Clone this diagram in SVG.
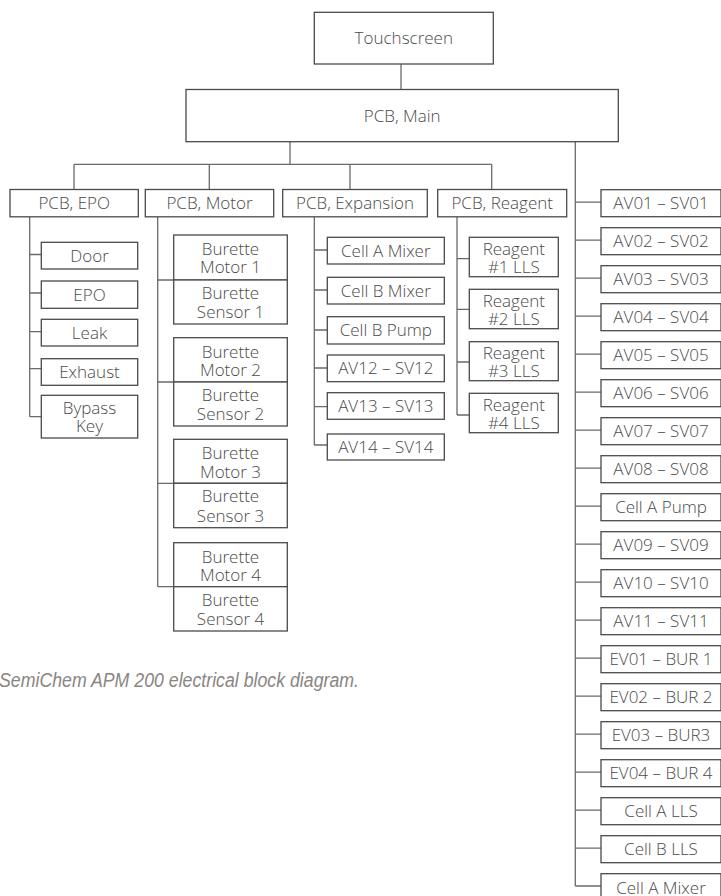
<svg xmlns="http://www.w3.org/2000/svg" width="721" height="896" viewBox="0 0 721 896">
<style>
  .box { fill: #ffffff; stroke: #4a4a4a; stroke-width: 1.3; }
  .lbl { font-family: "Open Sans", "Liberation Sans", sans-serif; font-weight: 300; font-size: 17px; fill: #4a4a4a; text-anchor: middle; }
  .con { fill: none; stroke: #6a6a6a; stroke-width: 1.3; }
  .cap { font-family: "Liberation Sans Narrow", "Liberation Sans", sans-serif; font-style: italic; font-size: 20px; fill: #8a8582; }
</style>
<rect x="0" y="0" width="721" height="896" fill="#ffffff"/>

<g id="connectors">
  <path class="con" d="M401 64 V89.5"/>
  <path class="con" d="M290 141.7 V164.3 M74 164.3 H491.7 M74 164.3 V189.5 M209.3 164.3 V189.5 M350 164.3 V189.5 M491.7 164.3 V189.5"/>
  <path class="con" d="M575.3 141.7 V886"/>
  <path class="con" d="M29.7 216.8 V416.7 M29.7 254.5 H41.3 M29.7 293 H41.3 M29.7 331.7 H41.3 M29.7 368.7 H41.3 M29.7 416.7 H41.3"/>
  <path class="con" d="M157.7 216.8 V586.7 M157.7 280 H173.7 M157.7 382 H173.7 M157.7 483.3 H173.7 M157.7 586.7 H173.7"/>
  <path class="con" d="M314.3 216.8 V445 M314.3 250 H327.3 M314.3 290 H327.3 M314.3 330 H327.3 M314.3 368 H327.3 M314.3 406.7 H327.3 M314.3 445 H327.3"/>
  <path class="con" d="M457 216.8 V415 M457 258.7 H469.3 M457 309.3 H469.3 M457 362 H469.3 M457 415 H469.3"/>
  <path class="con" d="M575.3 202.2 H601 M575.3 240.2 H601 M575.3 278.2 H601 M575.3 316.2 H601 M575.3 354.2 H601 M575.3 392.2 H601 M575.3 430.2 H601 M575.3 468.2 H601 M575.3 506.2 H601 M575.3 544.2 H601 M575.3 582.2 H601 M575.3 620.2 H601 M575.3 658.2 H601 M575.3 696.2 H601 M575.3 734.2 H601 M575.3 772.2 H601 M575.3 810.2 H601 M575.3 848.2 H601 M575.3 886 H601"/>
</g>

<g id="touchscreen"><rect class="box" x="314.3" y="12.3" width="179" height="51.7"/><text class="lbl" x="403.8" y="44">Touchscreen</text></g>
<g id="pcb-main"><rect class="box" x="186" y="89.5" width="432.3" height="52.2"/><text class="lbl" x="402.2" y="121.5">PCB, Main</text></g>

<g id="pcb-epo"><rect class="box" x="10" y="189.5" width="128.3" height="27.3"/><text class="lbl" x="74.2" y="209">PCB, EPO</text></g>
<g id="pcb-motor"><rect class="box" x="145.3" y="189.5" width="128.4" height="27.3"/><text class="lbl" x="209.5" y="209">PCB, Motor</text></g>
<g id="pcb-expansion"><rect class="box" x="282.7" y="189.5" width="144.6" height="27.3"/><text class="lbl" x="355" y="209">PCB, Expansion</text></g>
<g id="pcb-reagent"><rect class="box" x="437.7" y="189.5" width="129" height="27.3"/><text class="lbl" x="502.2" y="209">PCB, Reagent</text></g>

<g id="door"><rect class="box" x="41.3" y="242.3" width="96.4" height="26.7"/><text class="lbl" x="89.5" y="261.5">Door</text></g>
<g id="epo"><rect class="box" x="41.3" y="281" width="96.4" height="27.3"/><text class="lbl" x="89.5" y="300.5">EPO</text></g>
<g id="leak"><rect class="box" x="41.3" y="319.3" width="96.4" height="26.7"/><text class="lbl" x="89.5" y="338.5">Leak</text></g>
<g id="exhaust"><rect class="box" x="41.3" y="358.7" width="96.4" height="26.6"/><text class="lbl" x="89.5" y="377.8">Exhaust</text></g>
<g id="bypass-key"><rect class="box" x="41.3" y="395.3" width="96.4" height="42.7"/><text class="lbl" x="89.5" y="413.5">Bypass<tspan x="89.5" y="432">Key</tspan></text></g>

<g id="burette-motor-1"><rect class="box" x="173.7" y="235" width="113.6" height="45"/><text class="lbl" x="230.5" y="255">Burette<tspan x="230.5" y="273.3">Motor 1</tspan></text></g>
<g id="burette-sensor-1"><rect class="box" x="173.7" y="280" width="113.6" height="44"/><text class="lbl" x="230.5" y="299">Burette<tspan x="230.5" y="318.3">Sensor 1</tspan></text></g>
<g id="burette-motor-2"><rect class="box" x="173.7" y="337.7" width="113.6" height="44.3"/><text class="lbl" x="230.5" y="357.7">Burette<tspan x="230.5" y="376">Motor 2</tspan></text></g>
<g id="burette-sensor-2"><rect class="box" x="173.7" y="382" width="113.6" height="44"/><text class="lbl" x="230.5" y="401">Burette<tspan x="230.5" y="420.3">Sensor 2</tspan></text></g>
<g id="burette-motor-3"><rect class="box" x="173.7" y="439.3" width="113.6" height="44"/><text class="lbl" x="230.5" y="459.3">Burette<tspan x="230.5" y="477.6">Motor 3</tspan></text></g>
<g id="burette-sensor-3"><rect class="box" x="173.7" y="483.3" width="113.6" height="44.4"/><text class="lbl" x="230.5" y="502.3">Burette<tspan x="230.5" y="521.6">Sensor 3</tspan></text></g>
<g id="burette-motor-4"><rect class="box" x="173.7" y="542.7" width="113.6" height="44"/><text class="lbl" x="230.5" y="562.7">Burette<tspan x="230.5" y="581">Motor 4</tspan></text></g>
<g id="burette-sensor-4"><rect class="box" x="173.7" y="586.7" width="113.6" height="44.3"/><text class="lbl" x="230.5" y="605.7">Burette<tspan x="230.5" y="625">Sensor 4</tspan></text></g>

<g id="exp-cell-a-mixer"><rect class="box" x="327.3" y="237.3" width="117" height="26.7"/><text class="lbl" x="385.8" y="256.5">Cell A Mixer</text></g>
<g id="exp-cell-b-mixer"><rect class="box" x="327.3" y="277.3" width="117" height="26.7"/><text class="lbl" x="385.8" y="296.5">Cell B Mixer</text></g>
<g id="exp-cell-b-pump"><rect class="box" x="327.3" y="316.7" width="117" height="27.3"/><text class="lbl" x="385.8" y="336.2">Cell B Pump</text></g>
<g id="av12-sv12"><rect class="box" x="327.3" y="355" width="117" height="26.7"/><text class="lbl" x="385.8" y="374.2">AV12 – SV12</text></g>
<g id="av13-sv13"><rect class="box" x="327.3" y="392.7" width="117" height="26.6"/><text class="lbl" x="385.8" y="411.9">AV13 – SV13</text></g>
<g id="av14-sv14"><rect class="box" x="327.3" y="434" width="117" height="26"/><text class="lbl" x="385.8" y="452.9">AV14 – SV14</text></g>

<g id="reagent-1"><rect class="box" x="469.3" y="237.3" width="89" height="39.4"/><text class="lbl" x="513.8" y="255">Reagent<tspan x="513.8" y="272.7">#1 LLS</tspan></text></g>
<g id="reagent-2"><rect class="box" x="469.3" y="289.3" width="89" height="39.4"/><text class="lbl" x="513.8" y="307">Reagent<tspan x="513.8" y="324.7">#2 LLS</tspan></text></g>
<g id="reagent-3"><rect class="box" x="469.3" y="341.7" width="89" height="39"/><text class="lbl" x="513.8" y="359.4">Reagent<tspan x="513.8" y="377.1">#3 LLS</tspan></text></g>
<g id="reagent-4"><rect class="box" x="469.3" y="393.3" width="89" height="39.4"/><text class="lbl" x="513.8" y="411">Reagent<tspan x="513.8" y="428.7">#4 LLS</tspan></text></g>

<g id="av01-sv01"><rect class="box" x="601" y="189.7" width="120" height="27"/><text class="lbl" x="661" y="208.8">AV01 – SV01</text></g>
<g id="av02-sv02"><rect class="box" x="601" y="227.7" width="120" height="27"/><text class="lbl" x="661" y="246.8">AV02 – SV02</text></g>
<g id="av03-sv03"><rect class="box" x="601" y="265.7" width="120" height="27"/><text class="lbl" x="661" y="284.8">AV03 – SV03</text></g>
<g id="av04-sv04"><rect class="box" x="601" y="303.7" width="120" height="27"/><text class="lbl" x="661" y="322.8">AV04 – SV04</text></g>
<g id="av05-sv05"><rect class="box" x="601" y="341.7" width="120" height="27"/><text class="lbl" x="661" y="360.8">AV05 – SV05</text></g>
<g id="av06-sv06"><rect class="box" x="601" y="379.7" width="120" height="27"/><text class="lbl" x="661" y="398.8">AV06 – SV06</text></g>
<g id="av07-sv07"><rect class="box" x="601" y="417.7" width="120" height="27"/><text class="lbl" x="661" y="436.8">AV07 – SV07</text></g>
<g id="av08-sv08"><rect class="box" x="601" y="455.7" width="120" height="27"/><text class="lbl" x="661" y="474.8">AV08 – SV08</text></g>
<g id="cell-a-pump"><rect class="box" x="601" y="493.7" width="120" height="27"/><text class="lbl" x="661" y="512.8">Cell A Pump</text></g>
<g id="av09-sv09"><rect class="box" x="601" y="531.7" width="120" height="27"/><text class="lbl" x="661" y="550.8">AV09 – SV09</text></g>
<g id="av10-sv10"><rect class="box" x="601" y="569.7" width="120" height="27"/><text class="lbl" x="661" y="588.8">AV10 – SV10</text></g>
<g id="av11-sv11"><rect class="box" x="601" y="607.7" width="120" height="27"/><text class="lbl" x="661" y="626.8">AV11 – SV11</text></g>
<g id="ev01-bur1"><rect class="box" x="601" y="645.7" width="120" height="27"/><text class="lbl" x="661" y="664.8">EV01 – BUR 1</text></g>
<g id="ev02-bur2"><rect class="box" x="601" y="683.7" width="120" height="27"/><text class="lbl" x="661" y="702.8">EV02 – BUR 2</text></g>
<g id="ev03-bur3"><rect class="box" x="601" y="721.7" width="120" height="27"/><text class="lbl" x="661" y="740.8">EV03 – BUR3</text></g>
<g id="ev04-bur4"><rect class="box" x="601" y="759.7" width="120" height="27"/><text class="lbl" x="661" y="778.8">EV04 – BUR 4</text></g>
<g id="cell-a-lls"><rect class="box" x="601" y="797.7" width="120" height="27"/><text class="lbl" x="661" y="816.8">Cell A LLS</text></g>
<g id="cell-b-lls"><rect class="box" x="601" y="835.7" width="120" height="27"/><text class="lbl" x="661" y="854.8">Cell B LLS</text></g>
<g id="cell-a-mixer"><rect class="box" x="601" y="873.7" width="120" height="27"/><text class="lbl" x="661" y="893.5">Cell A Mixer</text></g>

<text class="cap" x="-1" y="687" textLength="360" lengthAdjust="spacingAndGlyphs">SemiChem APM 200 electrical block diagram.</text>
</svg>
